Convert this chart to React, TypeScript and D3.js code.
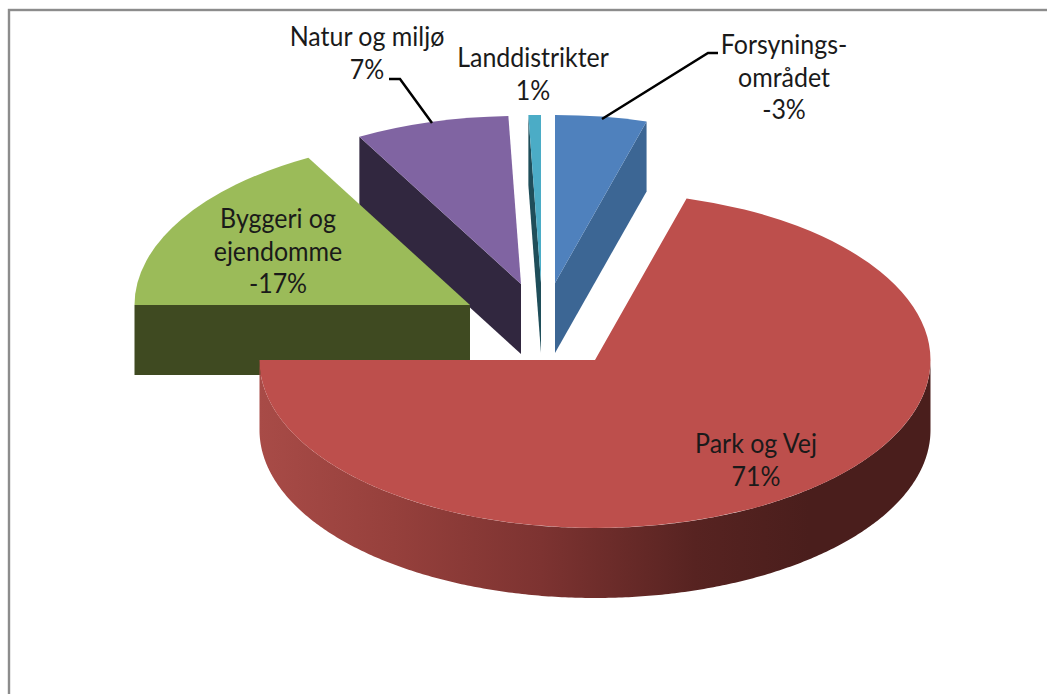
import React from "react";
import * as d3 from "d3";

// Data
const categories = ["Forsynings-området", "Park og Vej", "Byggeri og ejendomme", "Natur og miljø", "Landdistrikter"];
const labelPercents = [-3, 71, -17, 7, 1];
// Share of the drawn circle for each slice, as measured on the picture
const drawnShares = [4.4, 70.6, 17.0, 7.4, 0.6];

// Styling & layout (separate from data)
const topColors = ["#4f81bd", "#bd4f4c", "#9bbb59", "#8064a2", "#4bacc6"];
const wallColors = ["#3c6694", "#4a1e1c", "#3f4a21", "#31273f", "#1f4e5a"];
const apexes: [number, number][] = [[555, 283], [595, 360], [470, 305], [521, 284], [541, 283]];
const paintOrder = [3, 0, 4, 2, 1];
const RX = 335.5;
const RY = 168;
const DEPTH = 70;
const FONT = "Lato, Carlito, sans-serif";
const FONT_SIZE = 26;
const X_STRETCH = 0.96;

const labelBlocks: { lines: string[]; x: number; y: number }[] = [
  { lines: ["Forsynings-", "området", "-3%"], x: 784, y: 54 },
  { lines: ["Park og Vej", "71%"], x: 756, y: 453 },
  { lines: ["Byggeri og", "ejendomme", "-17%"], x: 278, y: 228 },
  { lines: ["Natur og miljø", "7%"], x: 367, y: 46 },
  { lines: ["Landdistrikter", "1%"], x: 533, y: 67 },
];
labelBlocks[0].lines[2] = `${labelPercents[0]}%`;
labelBlocks[1].lines[1] = `${labelPercents[1]}%`;
labelBlocks[2].lines[2] = `${labelPercents[2]}%`;
labelBlocks[3].lines[1] = `${labelPercents[3]}%`;
labelBlocks[4].lines[1] = `${labelPercents[4]}%`;

const leaderLines: [number, number][][] = [
  [[602, 119], [708, 53], [718, 53]],
  [[432, 123], [400, 79], [389, 79]],
];

const pie = d3.pie<number>().sort(null).value((d) => d);
const arcs = pie(drawnShares);

const rimPoint = (i: number, a: number, dy = 0): [number, number] => [
  apexes[i][0] + RX * Math.sin(a),
  apexes[i][1] - RY * Math.cos(a) + dy,
];

const topPath = (i: number) =>
  d3.arc<d3.PieArcDatum<number>>().innerRadius(0).outerRadius(RX)(arcs[i]) as string;

const lineGen = d3.line();

function rimPath(i: number): string | null {
  const from = Math.max(arcs[i].startAngle, Math.PI / 2);
  const to = Math.min(arcs[i].endAngle, (3 * Math.PI) / 2);
  if (to <= from) return null;
  const angles = d3.range(from, to, 0.01).concat(to);
  const upper = angles.map((a) => rimPoint(i, a));
  const lower = angles.slice().reverse().map((a) => rimPoint(i, a, DEPTH));
  return lineGen(upper.concat(lower)) + "Z";
}

function wallPath(i: number, a: number): string {
  const apex = apexes[i];
  return (
    lineGen([
      apex,
      rimPoint(i, a),
      rimPoint(i, a, DEPTH),
      [apex[0], apex[1] + DEPTH],
    ]) + "Z"
  );
}

export default function App() {
  return (
    <svg
      width={1047}
      height={694}
      style={{ position: "fixed", left: 0, top: 0, background: "#fff" }}
    >
      <defs>
        <linearGradient id="parkRim" gradientUnits="userSpaceOnUse" x1={259} x2={930} y1={0} y2={0}>
          <stop offset="0" stopColor="#a84b47" />
          <stop offset="0.2" stopColor="#96403c" />
          <stop offset="0.42" stopColor="#7d3331" />
          <stop offset="0.65" stopColor="#572321" />
          <stop offset="0.82" stopColor="#4a1e1c" />
          <stop offset="1" stopColor="#4a1e1c" />
        </linearGradient>
      </defs>
      <rect x={9} y={10} width={1100} height={800} fill="none" stroke="#8c8c8c" strokeWidth={2.4} />
      {paintOrder.map((i) => {
        const { startAngle, endAngle } = arcs[i];
        const showStartWall = Math.cos(startAngle - Math.PI / 2) < -1e-6;
        const showEndWall = Math.cos(endAngle + Math.PI / 2) < -1e-6;
        const rim = rimPath(i);
        return (
          <g key={categories[i]}>
            {showStartWall && <path d={wallPath(i, startAngle)} fill={wallColors[i]} />}
            {showEndWall && <path d={wallPath(i, endAngle)} fill={wallColors[i]} />}
            {rim && <path d={rim} fill={i === 1 ? "url(#parkRim)" : wallColors[i]} />}
            <g transform={`translate(${apexes[i][0]},${apexes[i][1]}) scale(1,${RY / RX})`}>
              <path d={topPath(i)} fill={topColors[i]} />
            </g>
          </g>
        );
      })}
      {leaderLines.map((pts, k) => (
        <path key={k} d={lineGen(pts) as string} fill="none" stroke="#000" strokeWidth={2.5} />
      ))}
      {labelBlocks.map((b) =>
        b.lines.map((t, k) => (
          <text
            key={t}
            transform={`translate(${b.x},${b.y + k * 32.5}) scale(${X_STRETCH},1)`}
            textAnchor="middle"
            fontFamily={FONT}
            fontSize={FONT_SIZE}
            fill="#1a1a1a"
          >
            {t}
          </text>
        ))
      )}
    </svg>
  );
}
